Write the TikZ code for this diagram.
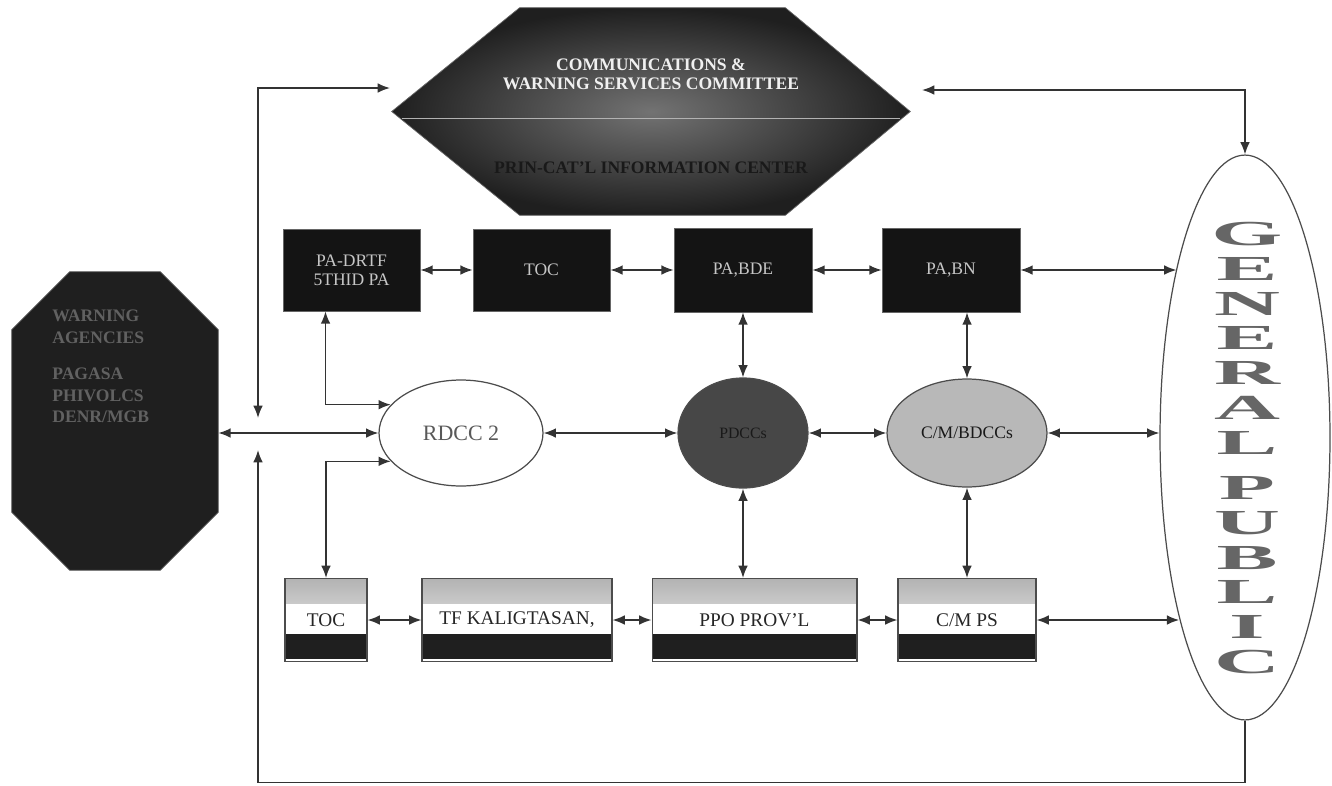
\documentclass[tikz,border=0pt]{standalone}
\usepackage{fontspec}
\usepackage{graphicx}
\setmainfont{Liberation Serif}
\usetikzlibrary{arrows.meta,shapes.geometric}
\newcommand{\gpl}[1]{\scalebox{2.6}[1]{#1}}
\begin{document}
\begin{tikzpicture}[x=0.02cm,y=-0.02cm,
                        link/.style={{Latex[length=7pt,width=5.5pt]}-{Latex[length=7pt,width=5.5pt]}, line width=0.9pt, draw=black!80},
                        onelink/.style={-{Latex[length=7pt,width=5.5pt]}, line width=0.9pt, draw=black!80},
                        darkbox/.style={rectangle, fill=black!92, draw=black!60, text=gray!45, align=center, inner sep=1pt, font=\fontsize{10}{11}\selectfont},
                        bandbox/.style={rectangle, draw=black!70, line width=0.6pt, text=black!85, inner sep=1pt, minimum height=1.66cm, font=\fontsize{11}{12}\selectfont,
                          path picture={
                            \shade[top color=gray!60, bottom color=white] (path picture bounding box.north west) rectangle ([yshift=-0.5cm]path picture bounding box.north east);
                            \fill[black!88] ([yshift=0.06cm]path picture bounding box.south west) rectangle ([yshift=0.56cm]path picture bounding box.south east);}},
                        ovalnode/.style={ellipse, draw=black!70, line width=0.7pt, inner sep=0pt}]
                        \useasboundingbox (0,0) rectangle (1332,785);

                        \node[rectangle, minimum width=10.36cm, minimum height=4.14cm] (CWSC) at (651,111.5) {};
                        \shade[inner color=gray!90!black, outer color=black!88, draw=black!60]
                          (CWSC.west) -- ([xshift=2.56cm]CWSC.north west) -- ([xshift=-2.5cm]CWSC.north east) -- (CWSC.east)
                          -- ([xshift=-2.5cm]CWSC.south east) -- ([xshift=2.56cm]CWSC.south west) -- cycle;
                        \draw[gray!60, line width=0.5pt] ([xshift=0.2cm,yshift=-0.14cm]CWSC.west) -- ([xshift=-0.2cm,yshift=-0.14cm]CWSC.east);
                        \node[text=gray!12, align=center, font=\bfseries\fontsize{10}{11}\selectfont] (CWSCT) at (651,74) {COMMUNICATIONS \&\\WARNING SERVICES COMMITTEE};
                        \node[text=black!90, font=\bfseries\fontsize{10}{11}\selectfont] (CWSCB) at (651,168) {PRIN-CAT'L INFORMATION CENTER};

                        \node[rectangle, minimum width=4.12cm, minimum height=5.96cm] (WA) at (115,421) {};
                        \fill[black!88, draw=black!60]
                          ([xshift=1.16cm]WA.north west) -- ([xshift=-1.16cm]WA.north east) -- ([yshift=-1.16cm]WA.north east)
                          -- ([yshift=1.16cm]WA.south east) -- ([xshift=-1.16cm]WA.south east) -- ([xshift=1.16cm]WA.south west)
                          -- ([yshift=1.16cm]WA.south west) -- ([yshift=-1.16cm]WA.north west) -- cycle;
                        \node[anchor=north west, text=black!62, align=left, inner sep=0pt, font=\bfseries\fontsize{10}{12}\selectfont] (WAT) at (52,310)
                          {WARNING\\AGENCIES\\[9pt]PAGASA\\PHIVOLCS\\DENR/MGB};

                        \node[darkbox, minimum width=2.74cm, minimum height=1.64cm] (PADRTF) at (351.5,270) {PA-DRTF\\5THID PA};
                        \node[darkbox, minimum width=2.74cm, minimum height=1.64cm] (TOCA) at (541.5,270) {TOC};
                        \node[darkbox, minimum width=2.76cm, minimum height=1.68cm] (PABDE) at (743,270) {PA,BDE};
                        \node[darkbox, minimum width=2.76cm, minimum height=1.68cm] (PABN) at (951,270) {PA,BN};

                        \node[ovalnode, fill=white, text=black!65, minimum width=3.28cm, minimum height=2.12cm, font=\fontsize{12.5}{14}\selectfont] (RDCC) at (461,433) {RDCC 2};
                        \node[ovalnode, fill=black!72, text=black!90, minimum width=2.6cm, minimum height=2.2cm, font=\fontsize{9}{10}\selectfont] (PDCC) at (743,433) {PDCCs};
                        \node[ovalnode, fill=black!28, text=black!90, minimum width=3.2cm, minimum height=2.16cm, font=\fontsize{10}{11}\selectfont] (CMB) at (967,433) {C/M/BDCCs};

                        \node[bandbox, minimum width=1.64cm] (TOCB) at (326,620) {TOC};
                        \node[bandbox, minimum width=3.8cm] (TFK) at (517,620) {TF KALIGTASAN,};
                        \node[bandbox, minimum width=4.1cm] (PPO) at (754.5,620) {PPO PROV'L};
                        \node[bandbox, minimum width=2.76cm] (CMPS) at (967,620) {C/M PS};

                        \node[ovalnode, fill=white, minimum width=3.4cm, minimum height=11.3cm] (GP) at (1245,437.5) {};
                        \node[align=center, text=black!60, inner sep=0pt, font=\bfseries\fontsize{20}{19.84}\selectfont] (GPT) at (1247,448)
                          {\gpl{G}\\\gpl{E}\\\gpl{N}\\\gpl{E}\\\gpl{R}\\\gpl{A}\\\gpl{L}\\[0.2cm]\gpl{P}\\\gpl{U}\\\gpl{B}\\\gpl{L}\\\gpl{I}\\\gpl{C}};

                        \coordinate (LT) at (258,418);
                        \coordinate (LB) at (258,450);
                        \coordinate (HL) at (390,88);
                        \coordinate (HR) at (922,90);

                        \draw[link] (LT) |- (HL);
                        \draw[link] (HR) -| (GP.north);
                        \draw[onelink] (GP.south) -- ++(0,62) -| (LB);

                        \draw[link] (RDCC.west -| WA.east) -- (RDCC.west);
                        \draw[link] ([xshift=-0.52cm]PADRTF.south) |- (RDCC.158);
                        \draw[link] (RDCC.202) -| (TOCB.north);

                        \draw[link] (PADRTF.east) -- (TOCA.west);
                        \draw[link] (TOCA.east) -- (PABDE.west);
                        \draw[link] (PABDE.east) -- (PABN.west);
                        \draw[link] (PABN.east) -- (PABN.east -| GP.112);

                        \draw[link] (RDCC.east) -- (PDCC.west);
                        \draw[link] (PDCC.east) -- (CMB.west);
                        \draw[link] (CMB.east) -- (CMB.east -| GP.west);

                        \draw[link] (PABDE.south) -- (PDCC.north);
                        \draw[link] (CMB.north |- PABN.south) -- (CMB.north);
                        \draw[link] (PDCC.south) -- (PDCC.south |- PPO.north);
                        \draw[link] (CMB.south) -- (CMB.south |- CMPS.north);

                        \draw[link] (TOCB.east) -- (TFK.west);
                        \draw[link] (TFK.east) -- (PPO.west);
                        \draw[link] (PPO.east) -- (CMPS.west);
                        \draw[link] (CMPS.east) -- (CMPS.east -| GP.250);
                      \end{tikzpicture}
\end{document}
